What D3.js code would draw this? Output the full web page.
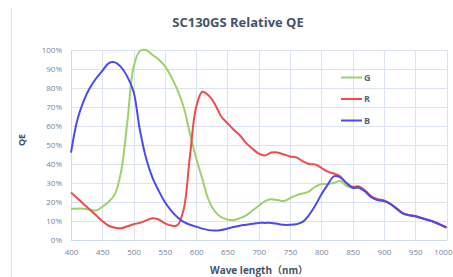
<!DOCTYPE html>
<html><head><meta charset="utf-8">
<script src="https://cdn.jsdelivr.net/npm/d3@7"></script>
<style>html,body{margin:0;padding:0;background:#fff;overflow:hidden}</style>
</head><body>
<svg id="c" width="453" height="277"></svg>
<script>
const wavelengths = d3.range(400, 1001, 10);
const seriesNames = ["G", "R", "B"];
const tail = [27.5, 27.5, 25.5, 22.5, 21, 20.5, 19, 16.5, 14, 13, 12.5, 11.5, 10.5, 9.5, 8, 6.5]; // 850..1000
const blueQE = [46, 63, 73, 80, 85, 89, 93, 93.5, 91, 86, 78, 58, 43, 33, 26, 20, 15.5, 12, 9.5, 8, 7, 6, 5.2, 5, 5.3, 6, 6.8, 7.5, 8, 8.5, 9, 9, 9, 8.5, 8, 8, 8.3, 9.5, 13, 18, 24, 29, 33.5, 33, 30].concat(tail);
const greenQE = [16.5, 16.5, 16.5, 16, 15.5, 17.5, 20, 24, 36, 62, 91, 99.5, 100, 97.5, 95, 91.5, 86, 79, 70, 56, 43, 32, 21, 15, 12, 10.8, 10.5, 11.5, 13, 15.5, 18, 20.5, 21.5, 21, 20.5, 22, 23.5, 24.5, 25.5, 28, 29.5, 29.5, 30, 31, 28.5].concat(tail);
const redQE = [25, 22, 19, 16, 13, 10, 7.5, 6.5, 6.2, 7.2, 8.3, 9, 10.3, 11.5, 10.8, 8.8, 7.6, 7.8, 16, 44, 70, 78, 76, 71.5, 65, 61.5, 58, 55, 51, 48, 45.5, 44.5, 46, 46, 45, 44, 43.5, 41.5, 40, 39.8, 38, 36, 35, 33.5, 30, 28, 28.2, 26, 23, 21.5, 20.8, 19.2, 16.8, 14.2, 13.2, 12.7, 11.7, 10.7, 9.7, 8.2, 6.7];
const yTicks = d3.range(0, 101, 10);
const xTicks = d3.range(400, 1001, 50);

const colors = {G: "#9ed06e", R: "#f04a4a", B: "#4a4af2"};
const data = {G: greenQE, R: redQE, B: blueQE};

const svg = d3.select("#c");
const x = d3.scaleLinear().domain([400, 1000]).range([71, 446.5]);
const y = d3.scaleLinear().domain([0, 100]).range([240, 50]);

// chart frame left edge
svg.append("line").attr("x1", 11.5).attr("x2", 11.5).attr("y1", 8).attr("y2", 277)
  .attr("stroke", "#dfe6f1").attr("stroke-width", 1);

// grid
const grid = svg.append("g");
grid.selectAll("line.h").data(yTicks).join("line")
  .attr("x1", x(400)).attr("x2", x(1000))
  .attr("y1", d => Math.round(y(d)) + 0.5).attr("y2", d => Math.round(y(d)) + 0.5)
  .attr("stroke", "#dbe3f1").attr("stroke-width", 1);
grid.selectAll("line.v").data(xTicks).join("line")
  .attr("x1", d => Math.round(x(d)) + 0.5).attr("x2", d => Math.round(x(d)) + 0.5)
  .attr("y1", y(100)).attr("y2", y(0))
  .attr("stroke", "#dbe3f1").attr("stroke-width", 1);

// axes
const xAxis = d3.axisBottom(x).tickValues(xTicks).tickSize(0).tickPadding(9).tickFormat(d3.format("d"));
const gx = svg.append("g").attr("transform", `translate(0,${y(0)})`).call(xAxis);
gx.select(".domain").attr("stroke", "#d0daea");
gx.selectAll("text").attr("fill", "#7a8597").style("font-family", "Open Sans").style("font-size", "8px");
// keep the last label inside the window
gx.selectAll(".tick").filter(d => d === 1000).select("text")
  .attr("text-anchor", "end").attr("x", 452 - x(1000));

const yAxis = d3.axisLeft(y).tickValues(yTicks).tickSize(0).tickPadding(9).tickFormat(d => d + "%");
const gy = svg.append("g").attr("transform", `translate(${x(400)},0)`).call(yAxis);
gy.select(".domain").attr("stroke", "#d0daea");
gy.selectAll("text").attr("fill", "#7a8597").style("font-family", "Open Sans").style("font-size", "8px");

// lines
const line = d3.line().x((d, i) => x(wavelengths[i])).y(d => y(d)).curve(d3.curveCatmullRom.alpha(0.5));
["G", "R", "B"].forEach(k => {
  svg.append("path").datum(data[k]).attr("d", line)
    .attr("fill", "none").attr("stroke", colors[k]).attr("stroke-width", 2)
    .attr("stroke-linejoin", "round");
});

// legend
const lg = svg.append("g");
seriesNames.forEach((k, i) => {
  const ly = 77.5 + i * 21.5;
  lg.append("line").attr("x1", 341).attr("x2", 362).attr("y1", ly).attr("y2", ly)
    .attr("stroke", colors[k]).attr("stroke-width", 2);
  lg.append("text").attr("x", 364).attr("y", ly + 3).text(k)
    .attr("fill", "#5a6577").style("font-family", "Open Sans").style("font-weight", "bold").style("font-size", "9px");
});

// titles
svg.append("text").attr("x", 238).attr("y", 27).attr("text-anchor", "middle")
  .text("SC130GS Relative QE").attr("fill", "#44546a")
  .style("font-family", "Open Sans").style("font-weight", "bold").style("font-size", "13px");
const xt = svg.append("text").attr("x", 259).attr("y", 274).attr("text-anchor", "middle")
  .attr("fill", "#44546a")
  .style("font-family", "'Open Sans'").style("font-weight", "bold").style("font-size", "10px");
xt.append("tspan").text("Wave length");
xt.append("tspan").text("（nm）").style("font-family", "'Noto Sans CJK SC'");
svg.append("text").attr("transform", "translate(25,140) rotate(-90)").attr("text-anchor", "middle")
  .text("QE").attr("fill", "#44546a")
  .style("font-family", "Open Sans").style("font-weight", "bold").style("font-size", "9px");
</script>
</body></html>
